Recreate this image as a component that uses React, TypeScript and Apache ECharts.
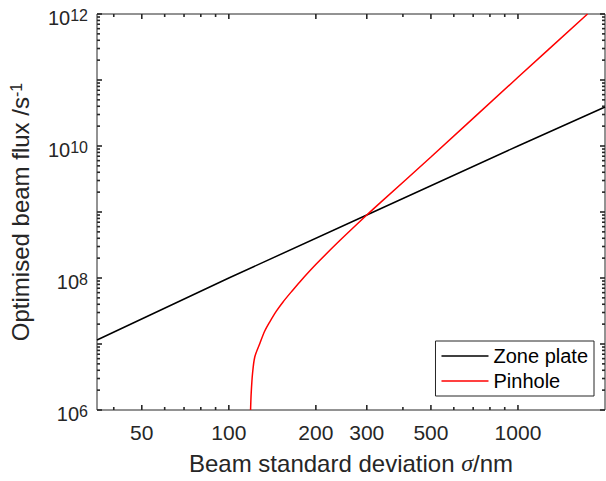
import { useEffect, useRef } from 'react';
import * as echarts from 'echarts';

// ---- data ----
const xMin = 35;
const xMax = 2000;
const yMin = 1e6;
const yMax = 1e12;

const xMajorTicks = [50, 100, 200, 300, 500, 1000];
const xMinorTicks = [40, 60, 70, 80, 90, 400, 600, 700, 800, 900];
const yDecades = [1e6, 1e7, 1e8, 1e9, 1e10, 1e11, 1e12];
const yLabelTicks = [1e6, 1e8, 1e10, 1e12];
const minorMultipliers = [2, 3, 4, 5, 6, 7, 8, 9];

const zonePlateSigma = [35, 100, 300, 1000, 2000];
const zonePlateFlux = [1.15e7, 1.0e8, 9.0e8, 1.0e10, 3.9e10];

const pinholeSigma = [118.9, 119.5, 120.8, 123, 128, 133, 138.6, 146, 154, 165, 176, 201, 242, 300, 335, 500, 1000, 1740];
const pinholeFlux = [1.0e6, 1.8e6, 3.6e6, 6.4e6, 1.02e7, 1.56e7, 2.17e7, 3.15e7, 4.34e7, 6.27e7, 8.73e7, 1.64e8, 3.69e8, 9.0e8, 1.4e9, 6.8e9, 1.1e11, 1.0e12];

const seriesNames = ['Zone plate', 'Pinhole'];

const FONT = 'Liberation Sans, Arial, Helvetica, sans-serif';
const AX = '#262626';

const yMinorTicks: number[] = [];
yDecades.slice(0, -1).forEach((d) => minorMultipliers.forEach((m) => yMinorTicks.push(d * m)));

const MAJOR_LEN = 5;
const MINOR_LEN = 3;
const TICK_W = 1.6;

export default function App() {
  const ref = useRef<HTMLDivElement>(null);
  useEffect(() => {
    if (!ref.current) return;
    const chart = echarts.init(ref.current, undefined, { renderer: 'svg' });

    const xTickVals = [...xMajorTicks, ...xMinorTicks];
    const xTickLens = [...xMajorTicks.map(() => MAJOR_LEN), ...xMinorTicks.map(() => MINOR_LEN)];
    const yTickVals = [...yDecades, ...yMinorTicks];
    const yTickLens = [...yDecades.map(() => MAJOR_LEN), ...yMinorTicks.map(() => MINOR_LEN)];

    // one custom series per side; each draws an inward tick through the axis scales
    const tickSeries = (
      vals: number[],
      lens: number[],
      at: (v: number) => number[],
      dx: number,
      dy: number
    ) => ({
      type: 'custom',
      clip: false,
      z: 10,
      data: vals.map((v) => at(v)),
      renderItem: (params: any, api: any) => {
        const p = api.coord(at(vals[params.dataIndex]));
        const len = lens[params.dataIndex];
        return {
          type: 'line',
          shape: { x1: p[0], y1: p[1], x2: p[0] + dx * len, y2: p[1] + dy * len },
          style: { stroke: AX, lineWidth: TICK_W },
        };
      },
    });

    chart.setOption({
      animation: false,
      backgroundColor: '#ffffff',
      grid: {
        left: 97,
        right: 1,
        top: 14,
        bottom: 71,
        show: true,
        borderColor: AX,
        borderWidth: 1,
        backgroundColor: 'transparent',
        outerBoundsMode: 'none',
        containLabel: false,
      },
      legend: {
        data: seriesNames,
        orient: 'vertical',
        right: 12,
        top: 341,
        padding: [5, 6, 5, 6],
        itemGap: 5,
        itemWidth: 47,
        itemHeight: 1.5,
        icon: 'rect',
        backgroundColor: '#ffffff',
        borderColor: AX,
        borderWidth: 1,
        borderRadius: 0,
        textStyle: { fontFamily: FONT, fontSize: 20, color: '#000' },
      },
      xAxis: {
        type: 'log',
        min: xMin,
        max: xMax,
        logBase: 10,
        axisLine: { show: false },
        axisTick: { show: false },
        splitLine: { show: false },
        minorTick: { show: false },
        axisLabel: {
          show: true,
          customValues: xMajorTicks,
          formatter: (v: number) => String(Math.round(v)),
          color: AX,
          fontFamily: FONT,
          fontSize: 21,
          margin: 12,
        },
        name: '{a|Beam standard deviation }{i|σ}{a|/nm}',
        nameLocation: 'middle',
        nameGap: 41,
        nameTextStyle: {
          color: AX,
          fontFamily: FONT,
          fontSize: 24,
          rich: {
            a: { fontSize: 24, fontFamily: FONT, color: AX },
            i: { fontSize: 24, fontFamily: 'Liberation Serif, Times New Roman, serif', fontStyle: 'italic', color: AX },
          },
        },
      },
      yAxis: {
        type: 'log',
        min: yMin,
        max: yMax,
        logBase: 10,
        axisLine: { show: false },
        axisTick: { show: false },
        splitLine: { show: false },
        minorTick: { show: false },
        axisLabel: {
          show: true,
          customValues: yLabelTicks,
          formatter: (v: number) => `{b|10}{s|${Math.round(Math.log10(v))}}`,
          color: AX,
          fontFamily: FONT,
          margin: 9,
          padding: [7, 0, 0, 0],
          rich: {
            b: { fontSize: 20, lineHeight: 20, verticalAlign: 'bottom', fontFamily: FONT, color: AX },
            s: { fontSize: 16, lineHeight: 16, verticalAlign: 'top', padding: [0, 0, 10, 0], fontFamily: FONT, color: AX },
          },
        },
        name: '{a|Optimised beam flux /s}{s|-1}',
        nameLocation: 'middle',
        nameGap: 60,
        nameTextStyle: {
          color: AX,
          fontFamily: FONT,
          fontSize: 24,
          rich: {
            a: { fontSize: 24, lineHeight: 24, verticalAlign: 'bottom', fontFamily: FONT, color: AX },
            s: { fontSize: 16, lineHeight: 16, verticalAlign: 'top', padding: [0, 0, 13, 0], fontFamily: FONT, color: AX },
          },
        },
      },
      series: [
        {
          name: seriesNames[0],
          type: 'line',
          data: zonePlateSigma.map((s, i) => [s, zonePlateFlux[i]]),
          symbol: 'none',
          lineStyle: { color: '#000000', width: 1.5 },
          itemStyle: { color: '#000000' },
          clip: true,
          z: 2,
        },
        {
          name: seriesNames[1],
          type: 'line',
          data: pinholeSigma.map((s, i) => [s, pinholeFlux[i]]),
          symbol: 'none',
          smooth: 0.3,
          lineStyle: { color: '#ff0000', width: 1.5 },
          itemStyle: { color: '#ff0000' },
          clip: true,
          z: 3,
        },
        tickSeries(xTickVals, xTickLens, (v) => [v, yMin], 0, -1),
        tickSeries(xTickVals, xTickLens, (v) => [v, yMax], 0, 1),
        tickSeries(yTickVals, yTickLens, (v) => [xMin, v], 1, 0),
        tickSeries(yTickVals, yTickLens, (v) => [xMax, v], -1, 0),
      ],
    });

    return () => chart.dispose();
  }, []);
  return <div ref={ref} style={{ position: 'fixed', left: 0, top: 0, width: 606, height: 481 }} />;
}
